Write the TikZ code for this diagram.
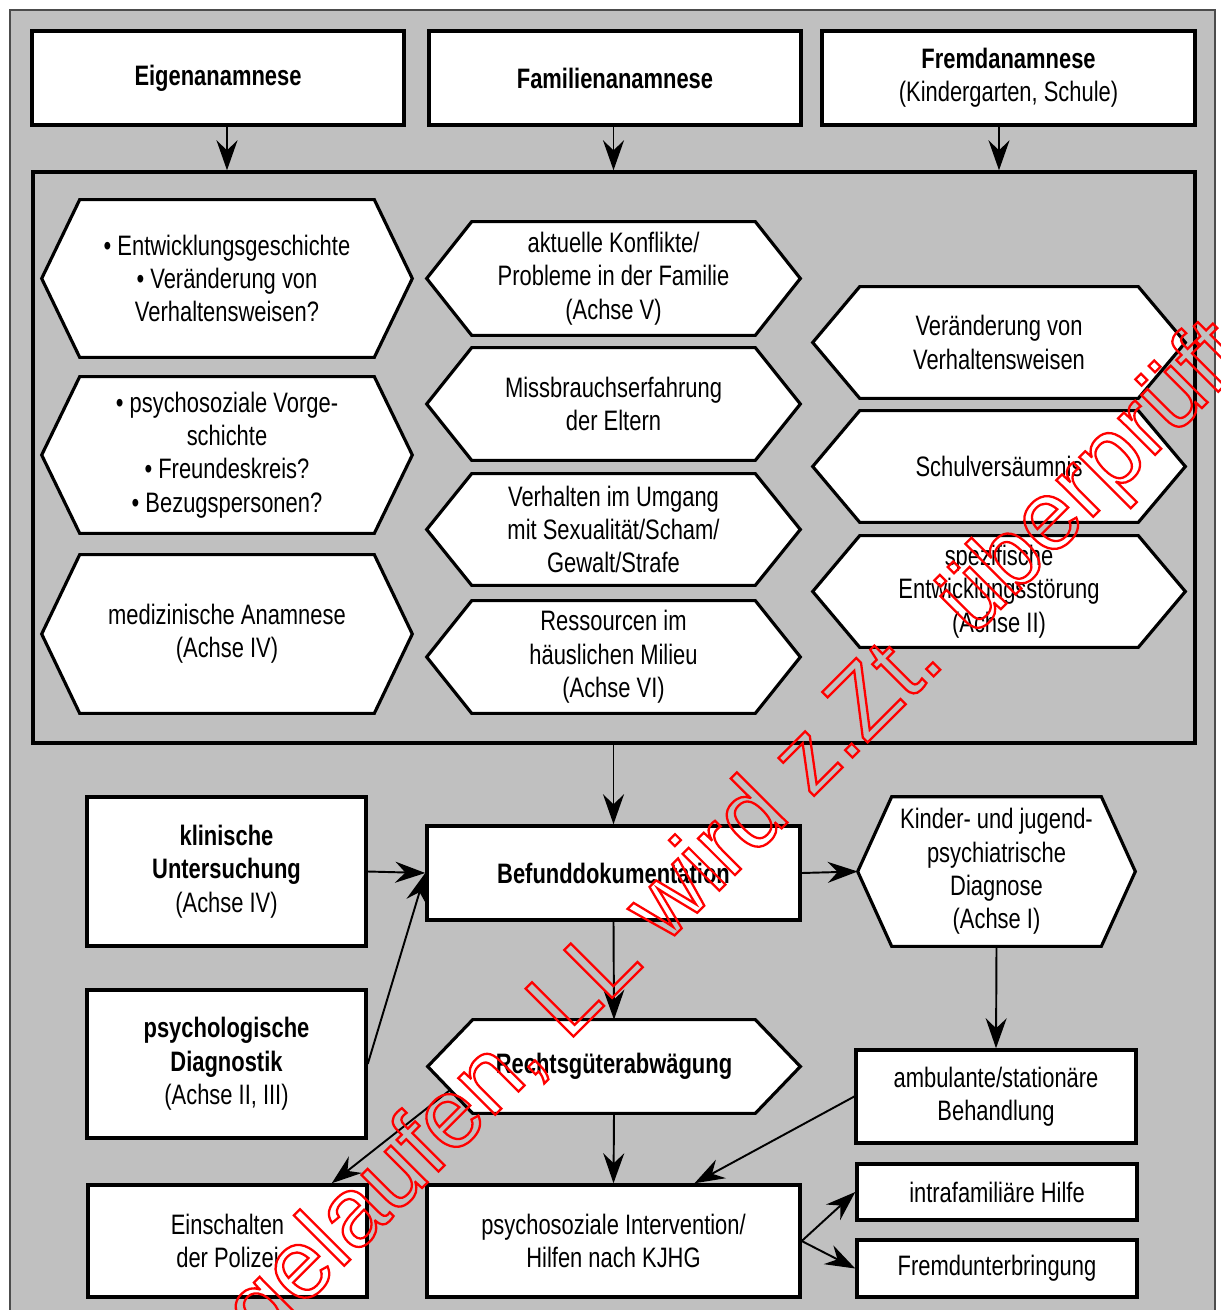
\documentclass[tikz,border=0pt]{standalone}
\usepackage{fontspec}
\setmainfont[FakeStretch=0.78]{Liberation Sans}
\newfontfamily\wmfont{Liberation Sans}
\usetikzlibrary{arrows.meta,backgrounds,calc}
\definecolor{grund}{RGB}{192,192,192}
\begin{document}
\begin{tikzpicture}[x=.02cm,y=-.02cm,
 every node/.style={font=\fontsize{16}{19}\selectfont,align=center,inner sep=0pt},
 kasten/.style={draw,line width=2pt,fill=white},
 hexa/.style={draw,line width=1.8pt,fill=white,line join=miter},
 pfeil/.style={line width=1.1pt,-{Stealth[length=.6cm,width=.42cm,inset=.2cm]}}]
 \useasboundingbox (0,0) rectangle (1220,1310);
 \begin{scope}[on background layer]
 \fill[white] (0,0) rectangle (1220,1310);
 \draw[fill=grund,draw=black!70,line width=1.2pt] (10,10) rectangle (1215,1340);
 \node[draw,line width=2pt,fill=grund,minimum width=23.24cm,minimum height=11.42cm] (panel) at (614,457.5) {};
 \end{scope}
 \path
 (218,78) node[kasten,minimum width=7.44cm,minimum height=1.88cm] (eigen) {\textbf{Eigenanamnese}} % <<< oben
 (615,78) node[kasten,minimum width=7.44cm,minimum height=1.88cm] (familie) {\textbf{Familienanamnese}}
 (1008.5,78) node[kasten,minimum width=7.46cm,minimum height=1.88cm] (fremd) {\textbf{Fremdanamnese}\\(Kindergarten, Schule)};
 \path
 (227,278.5) node[minimum width=7.4cm,minimum height=3.14cm] (e1) {• Entwicklungsgeschichte\\• Veränderung von\\Verhaltensweisen?} % <<< Spalte 1
 (227,455) node[minimum width=7.4cm,minimum height=3.12cm] (e2) {• psychosoziale Vorge-\\schichte\\• Freundeskreis?\\• Bezugspersonen?}
 (227,634) node[minimum width=7.4cm,minimum height=3.16cm] (e3) {medizinische Anamnese\\(Achse IV)}
 (613.5,278.5) node[minimum width=7.46cm,minimum height=2.26cm] (f1) {aktuelle Konflikte/\\Probleme in der Familie\\(Achse V)} % <<< Spalte 2
 (613.5,404) node[minimum width=7.46cm,minimum height=2.24cm] (f2) {Missbrauchserfahrung\\der Eltern}
 (613.5,529.5) node[minimum width=7.46cm,minimum height=2.22cm] (f3) {Verhalten im Umgang\\mit Sexualität/Scham/\\Gewalt/Strafe}
 (613.5,657) node[minimum width=7.46cm,minimum height=2.24cm] (f4) {Ressourcen im\\häuslichen Milieu\\(Achse VI)}
 (999,342.5) node[minimum width=7.44cm,minimum height=2.22cm] (r1) {Veränderung von\\Verhaltensweisen} % <<< Spalte 3
 (999,466.5) node[minimum width=7.44cm,minimum height=2.22cm] (r2) {Schulversäumnis}
 (999,591.5) node[minimum width=7.44cm,minimum height=2.22cm] (r3) {spezifische\\Entwicklungsstörung\\(Achse II)};
 \path
 (226.5,871.5) node[kasten,minimum width=5.58cm,minimum height=2.98cm] (klinik) {\textbf{klinische}\\\textbf{Untersuchung}\\(Achse IV)} % <<< unten
 (226.5,1064) node[kasten,minimum width=5.58cm,minimum height=2.96cm] (psycho) {\textbf{psychologische}\\\textbf{Diagnostik}\\(Achse II, III)}
 (613.5,873) node[kasten,minimum width=7.46cm,minimum height=1.88cm] (befund) {\textbf{Befunddokumentation}}
 (996.5,871.5) node[minimum width=5.54cm,minimum height=2.98cm] (diagnose) {Kinder- und jugend-\\psychiatrische\\Diagnose\\(Achse I)}
 (614,1066.5) node[minimum width=7.44cm,minimum height=1.86cm] (recht) {\textbf{Rechtsgüterabwägung}}
 (996,1096.5) node[kasten,minimum width=5.6cm,minimum height=1.86cm] (behandlung) {ambulante/stationäre\\Behandlung}
 (227.5,1241) node[kasten,minimum width=5.58cm,minimum height=2.24cm] (polizei) {Einschalten\\der Polizei}
 (613.5,1241) node[kasten,minimum width=7.46cm,minimum height=2.24cm] (hilfen) {psychosoziale Intervention/\\Hilfen nach KJHG}
 (997,1192) node[kasten,minimum width=5.6cm,minimum height=1.12cm] (intra) {intrafamiliäre Hilfe}
 (997,1268.5) node[kasten,minimum width=5.6cm,minimum height=1.14cm] (fremdu) {Fremdunterbringung};
 \begin{scope}[on background layer]
 \foreach \n/\d in {e1/38,e2/38,e3/38,f1/45,f2/45,f3/45,f4/45,r1/47,r2/47,r3/47,diagnose/34,recht/45}
 \draw[hexa] (\n.west) -- ($(\n.north west)+(\d,0)$) -- ($(\n.north east)-(\d,0)$)
 -- (\n.east) -- ($(\n.south east)-(\d,0)$) -- ($(\n.south west)+(\d,0)$) -- cycle;
 \end{scope}
 \begin{scope}[pfeil]
 \draw (e1 |- eigen.south) -- (e1 |- panel.north);
 \draw (f1 |- familie.south) -- (f1 |- panel.north);
 \draw (r1 |- fremd.south) -- (r1 |- panel.north);
 \draw (befund |- panel.south) -- (befund.north);
 \draw (klinik.east) -- (befund.west);
 \draw (psycho.east) -- (befund.west);
 \draw (befund.east) -- (diagnose.west);
 \draw (befund.south) -- (recht.north);
 \draw (diagnose.south) -- (behandlung.north);
 \draw (recht.south) -- (hilfen.north);
 \draw ($(recht.west)!.5!(recht.south west)+(22.5,0)$) -- ([xshift=-.74cm]polizei.north east);
 \draw (behandlung.west) -- ([xshift=1.62cm]hilfen.north);
 \draw (hilfen.east) -- (intra.west);
 \draw (hilfen.east) -- (fremdu.west);
 \end{scope}
 \node[rotate=45,anchor=base west,align=left,font=\wmfont\fontsize{56}{60}\selectfont] (stempel) at (262,1348)
 {\special{pdf:literal direct 1 Tr 1.3 w 1 0 0 RG}gelaufen, LL wird z.Zt. überprüft};
\end{tikzpicture}
\end{document}
